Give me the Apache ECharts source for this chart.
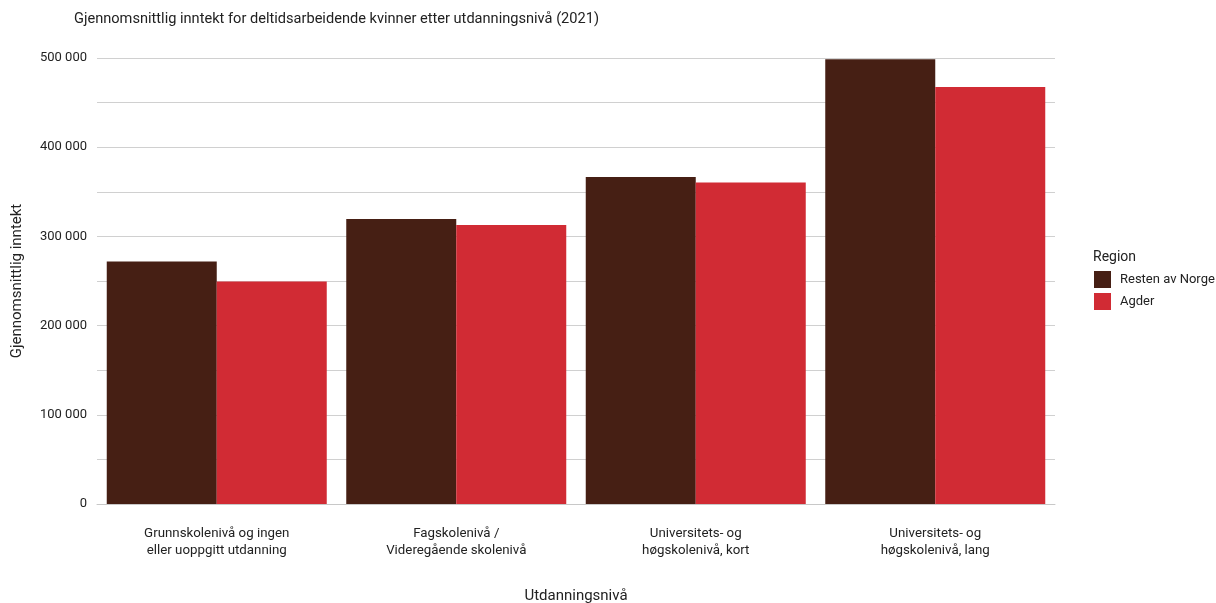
<!DOCTYPE html>
<html>
<head>
<meta charset="utf-8">
<script src="https://cdn.jsdelivr.net/npm/echarts@6/dist/echarts.min.js"></script>
<style>
  html, body { margin: 0; padding: 0; background: #fff; }
  #chart { width: 1216px; height: 603px; }
</style>
</head>
<body>
<div id="chart"></div>
<script>
// Average income for part-time working women by education level (2021)
const categories = [
  'Grunnskolenivå og ingen\neller uoppgitt utdanning',
  'Fagskolenivå /\nVideregående skolenivå',
  'Universitets- og\nhøgskolenivå, kort',
  'Universitets- og\nhøgskolenivå, lang'
];
const seriesNames = ['Resten av Norge', 'Agder'];
const restenAvNorge = [272000, 319500, 366500, 498500];
const agder = [249500, 312700, 360500, 467600];
const yTicks = [0, 100000, 200000, 300000, 400000, 500000];

const colors = ['#461f14', '#d12b34'];
const font = 'Roboto, "Noto Sans", sans-serif';

function formatThousands(v) {
  return String(v).replace(/\B(?=(\d{3})+(?!\d))/g, ' ');
}

const chart = echarts.init(document.getElementById('chart'), null, { renderer: 'canvas' });

chart.setOption({
  animation: false,
  textStyle: { fontFamily: font },
  title: {
    text: 'Gjennomsnittlig inntekt for deltidsarbeidende kvinner etter utdanningsnivå (2021)',
    left: 69,
    top: 7,
    textStyle: { fontFamily: font, fontSize: 14.6, fontWeight: 'normal', color: '#222' }
  },
  legend: {
    orient: 'vertical',
    left: 1089,
    top: 266,
    itemWidth: 17,
    itemHeight: 17,
    itemGap: 5,
    icon: 'rect',
    data: seriesNames,
    textStyle: { fontFamily: font, fontSize: 13, color: '#222', padding: [0, 0, 0, 4] }
  },
  graphic: [{
    type: 'text',
    left: 1093,
    top: 250,
    style: { text: 'Region', fontFamily: font, fontSize: 14, fill: '#222' }
  }],
  grid: { left: 97, right: 161, top: 58, bottom: 99, outerBoundsMode: 'none', containLabel: false },
  xAxis: {
    type: 'category',
    data: categories,
    name: 'Utdanningsnivå',
    nameLocation: 'middle',
    nameGap: 85,
    nameTextStyle: { fontFamily: font, fontSize: 15, color: '#222' },
    axisLine: { show: true, lineStyle: { color: '#c8c8c8', width: 1 } },
    axisTick: { show: false },
    axisLabel: {
      margin: 21,
      fontFamily: font,
      fontSize: 13.3,
      color: '#222',
      lineHeight: 17,
      interval: 0
    }
  },
  yAxis: {
    type: 'value',
    min: 0,
    max: 500000,
    interval: 50000,
    name: 'Gjennomsnittlig inntekt',
    nameLocation: 'middle',
    nameGap: 72,
    nameRotate: 90,
    nameTextStyle: { fontFamily: font, fontSize: 15, color: '#222' },
    axisLine: { show: false },
    axisTick: { show: false },
    splitLine: { show: true, lineStyle: { color: '#d0d0d0', width: 1 } },
    axisLabel: {
      margin: 10,
      fontFamily: font,
      fontSize: 13,
      color: '#222',
      formatter: function (v) {
        return yTicks.indexOf(v) >= 0 ? formatThousands(v) : '';
      }
    }
  },
  series: [
    {
      name: seriesNames[0],
      type: 'bar',
      data: restenAvNorge,
      barWidth: 110,
      barGap: '0%',
      itemStyle: { color: colors[0] }
    },
    {
      name: seriesNames[1],
      type: 'bar',
      data: agder,
      barWidth: 110,
      barGap: '0%',
      itemStyle: { color: colors[1] }
    }
  ]
});
</script>
</body>
</html>
